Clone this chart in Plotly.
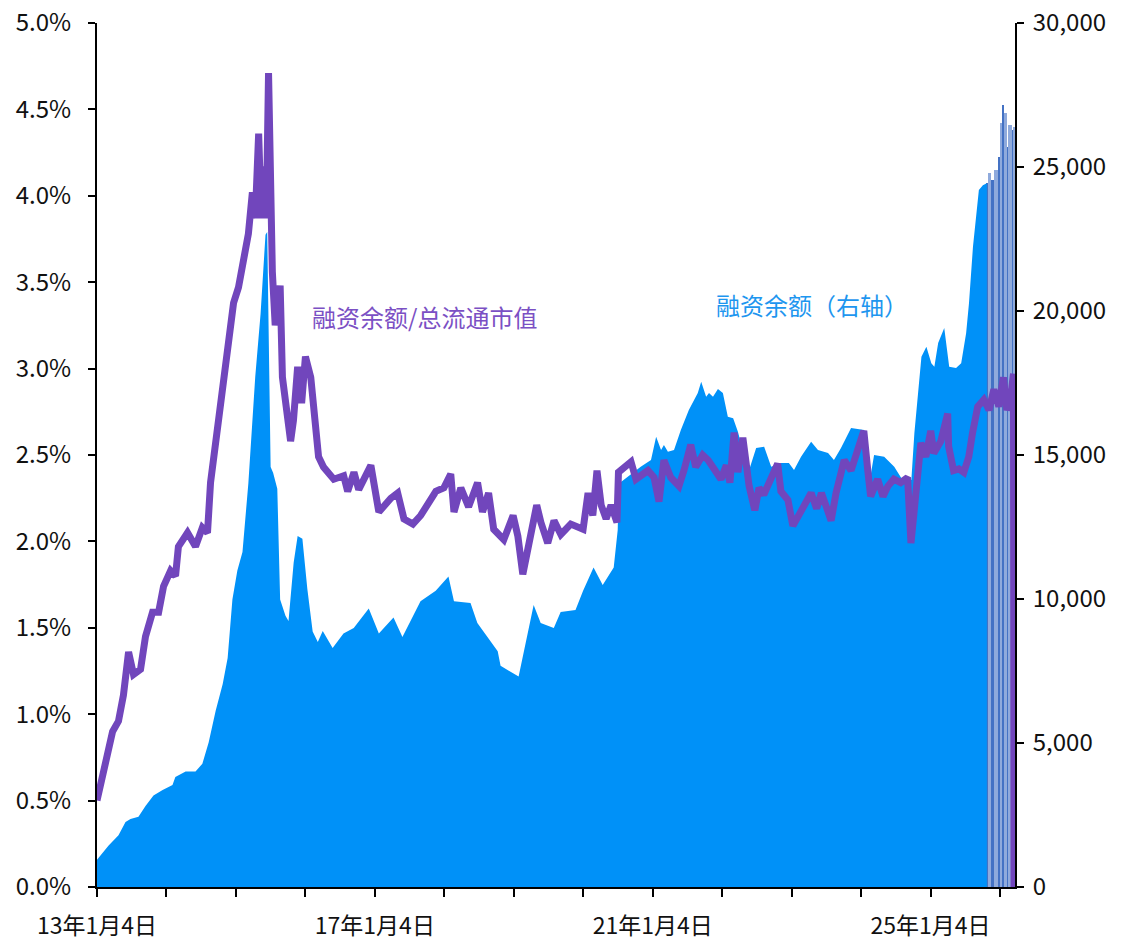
import plotly.graph_objects as go
import pandas as pd

# 融资余额 (亿元, right axis)
bal_dates = [
    "2013-01-04", "2013-03-05", "2013-04-27", "2013-06-03", "2013-06-29", "2013-08-10", "2013-09-16",
    "2013-10-28", "2013-12-15", "2014-02-05", "2014-02-20", "2014-04-15", "2014-06-06", "2014-07-12",
    "2014-08-14", "2014-09-20", "2014-10-27", "2014-11-22", "2014-12-17", "2015-01-12", "2015-02-08",
    "2015-03-11", "2015-04-16", "2015-05-14", "2015-06-09", "2015-06-18", "2015-07-06", "2015-07-19",
    "2015-08-10", "2015-08-25", "2015-09-22", "2015-10-08", "2015-11-04", "2015-11-25", "2015-12-20",
    "2016-01-15", "2016-02-12", "2016-03-10", "2016-04-05", "2016-05-27", "2016-07-23", "2016-09-15",
    "2016-12-03", "2017-01-25", "2017-04-12", "2017-05-29", "2017-09-01", "2017-11-20", "2018-01-26",
    "2018-02-24", "2018-05-22", "2018-06-27", "2018-10-12", "2018-10-27", "2019-01-30", "2019-04-19",
    "2019-05-26", "2019-08-03", "2019-09-08", "2019-11-25", "2020-01-04", "2020-02-28", "2020-04-16",
    "2020-06-13", "2020-07-04", "2020-07-09", "2020-11-02", "2020-12-26", "2021-01-22", "2021-02-17",
    "2021-03-04", "2021-03-25", "2021-04-26", "2021-06-01", "2021-07-13", "2021-08-29", "2021-09-16",
    "2021-10-12", "2021-10-27", "2021-11-17", "2021-12-13", "2022-01-08", "2022-02-03", "2022-03-03",
    "2022-03-28", "2022-04-29", "2022-05-26", "2022-07-02", "2022-08-13", "2022-09-19", "2022-11-10",
    "2022-12-21", "2023-01-17", "2023-02-23", "2023-04-17", "2023-05-23", "2023-07-15", "2023-08-15",
    "2023-09-21", "2023-11-13", "2024-01-21", "2024-02-10", "2024-02-26", "2024-03-13", "2024-05-05",
    "2024-06-27", "2024-08-03", "2024-09-25", "2024-10-11", "2024-11-01", "2024-11-17", "2024-12-13",
    "2025-01-08", "2025-01-24", "2025-02-13", "2025-03-17", "2025-04-12", "2025-05-18", "2025-06-14",
    "2025-07-10", "2025-07-25", "2025-08-15", "2025-08-31", "2025-09-15", "2025-10-06", "2025-10-27",
    "2025-11-01", "2025-11-16", "2025-12-02", "2025-12-23", "2026-01-07", "2026-01-17", "2026-01-27",
    "2026-02-12", "2026-02-17", "2026-03-09", "2026-03-18",
]
bal_values = [
    950, 1430, 1800, 2260, 2360, 2440, 2810,
    3180, 3370, 3540, 3820, 4010, 4010, 4280,
    5020, 6120, 7050, 7950, 9980, 10990, 11630,
    14030, 17710, 19900, 22650, 22740, 14580, 14380,
    13830, 9980, 9420, 9240, 11260, 12190, 12090,
    10350, 8870, 8510, 8890, 8300, 8800, 8990,
    9670, 8800, 9360, 8680, 9920, 10290, 10780,
    9920, 9860, 9170, 8190, 7680, 7310, 9790,
    9170, 8990, 9550, 9620, 10290, 11090, 10490,
    11090, 12400, 14000, 14590, 14830, 15630, 15170,
    15350, 15110, 15170, 15870, 16560, 17150, 17540,
    17020, 17150, 17020, 17290, 17150, 16330, 16280,
    15810, 15000, 14480, 15240, 15290, 14590, 14720,
    14720, 14480, 14940, 15460, 15170, 15070, 14830,
    15240, 15940, 15870, 14830, 14370, 15000, 14940,
    14590, 14200, 14130, 15760, 17370, 18410, 18760,
    18190, 18060, 18890, 19410, 18060, 18020, 18190,
    19230, 20270, 22230, 23160, 24200, 24370, 24440,
    24790, 24550, 24900, 25360, 26520, 27150, 26870,
    25700, 26460, 26290, 26390,
]

# 融资余额/总流通市值 (%, left axis)
ratio_dates = [
    "2013-01-04", "2013-02-18", "2013-03-27", "2013-04-27", "2013-05-23", "2013-06-19", "2013-07-15",
    "2013-08-21", "2013-09-16", "2013-10-23", "2013-11-24", "2013-12-20", "2014-01-26", "2014-02-21",
    "2014-03-08", "2014-04-25", "2014-06-06", "2014-07-12", "2014-08-08", "2014-08-24", "2014-09-19",
    "2014-10-15", "2014-10-31", "2014-11-27", "2014-12-23", "2015-01-18", "2015-02-14", "2015-03-11",
    "2015-04-01", "2015-04-16", "2015-05-04", "2015-05-18", "2015-05-28", "2015-06-13", "2015-06-25",
    "2015-07-15", "2015-07-30", "2015-08-25", "2015-09-06", "2015-10-02", "2015-10-19", "2015-11-03",
    "2015-11-25", "2015-12-16", "2016-01-05", "2016-02-02", "2016-02-28", "2016-03-14", "2016-04-09",
    "2016-06-02", "2016-07-24", "2016-08-14", "2016-09-16", "2016-10-11", "2016-12-14", "2017-01-25",
    "2017-03-29", "2017-05-04", "2017-06-06", "2017-07-23", "2017-09-02", "2017-10-10", "2017-11-21",
    "2018-01-02", "2018-02-07", "2018-02-24", "2018-04-01", "2018-05-12", "2018-06-28", "2018-07-24",
    "2018-08-25", "2018-09-21", "2018-11-13", "2019-01-01", "2019-01-26", "2019-02-21", "2019-03-18",
    "2019-05-05", "2019-05-27", "2019-07-02", "2019-08-04", "2019-09-09", "2019-10-31", "2020-01-04",
    "2020-01-30", "2020-02-24", "2020-03-17", "2020-04-08", "2020-05-04", "2020-05-30", "2020-06-30",
    "2020-07-08", "2020-09-12", "2020-10-08", "2020-12-10", "2021-01-11", "2021-02-06", "2021-03-04",
    "2021-04-09", "2021-05-22", "2021-06-17", "2021-07-23", "2021-08-18", "2021-09-24", "2021-10-23",
    "2021-12-03", "2021-12-29", "2022-01-26", "2022-02-14", "2022-03-08", "2022-03-28", "2022-04-23",
    "2022-05-26", "2022-06-25", "2022-07-17", "2022-08-11", "2022-09-17", "2022-10-23", "2022-11-09",
    "2022-12-16", "2023-01-11", "2023-02-13", "2023-03-11", "2023-04-17", "2023-05-16", "2023-06-10",
    "2023-07-06", "2023-07-31", "2023-08-26", "2023-10-08", "2023-11-13", "2023-12-19", "2024-01-19",
    "2024-02-09", "2024-02-24", "2024-04-01", "2024-04-29", "2024-05-25", "2024-06-25", "2024-07-31",
    "2024-09-05", "2024-09-23", "2024-10-19", "2024-11-14", "2024-12-10", "2025-01-05", "2025-01-21",
    "2025-02-27", "2025-04-04", "2025-04-09", "2025-05-05", "2025-06-02", "2025-06-28", "2025-07-24",
    "2025-08-13", "2025-09-09", "2025-10-11", "2025-11-07", "2025-12-03", "2025-12-29", "2026-01-22",
    "2026-02-09", "2026-02-28", "2026-03-16", "2026-03-19",
]
ratio_values = [
    0.50, 0.71, 0.90, 0.96, 1.11, 1.36, 1.23,
    1.26, 1.45, 1.59, 1.59, 1.74, 1.83, 1.80,
    1.97, 2.05, 1.97, 2.08, 2.05, 2.34, 2.58,
    2.80, 2.95, 3.22, 3.38, 3.47, 3.64, 3.78,
    4.02, 3.87, 4.36, 3.87, 4.17, 3.87, 4.71,
    3.56, 3.25, 3.48, 2.95, 2.70, 2.58, 2.70,
    3.01, 2.80, 3.07, 2.95, 2.67, 2.49, 2.43,
    2.36, 2.38, 2.29, 2.40, 2.30, 2.44, 2.17,
    2.25, 2.28, 2.13, 2.10, 2.15, 2.21, 2.29,
    2.31, 2.39, 2.17, 2.31, 2.20, 2.34, 2.17,
    2.28, 2.07, 2.01, 2.15, 2.03, 1.81, 1.96,
    2.21, 2.11, 1.99, 2.12, 2.04, 2.10, 2.07,
    2.28, 2.15, 2.41, 2.21, 2.13, 2.21, 2.11,
    2.40, 2.46, 2.36, 2.41, 2.37, 2.23, 2.47,
    2.37, 2.32, 2.41, 2.56, 2.43, 2.50, 2.47,
    2.41, 2.36, 2.44, 2.34, 2.63, 2.40, 2.60,
    2.32, 2.18, 2.31, 2.27, 2.36, 2.45, 2.29,
    2.24, 2.09, 2.16, 2.20, 2.28, 2.19, 2.28,
    2.20, 2.12, 2.28, 2.47, 2.41, 2.55, 2.64,
    2.41, 2.26, 2.36, 2.26, 2.32, 2.36, 2.34,
    2.37, 1.99, 2.31, 2.57, 2.49, 2.64, 2.51,
    2.58, 2.74, 2.55, 2.41, 2.42, 2.40, 2.49,
    2.63, 2.78, 2.82, 2.76, 2.88, 2.78, 2.95,
    2.76, 2.82, 2.97, 0.0,
]

stripe_start = "2025-10-27"
x_start, x_end = "2013-01-04", "2026-03-24"

tick_dates = [
    "2013-01-04", "2014-01-04", "2015-01-04", "2016-01-04", "2017-01-04", "2018-01-04", "2019-01-04",
    "2020-01-04", "2021-01-04", "2022-01-04", "2023-01-04", "2024-01-04", "2025-01-04", "2026-01-04",
]
tick_labels = [
    "13年1月4日", "", "", "", "17年1月4日", "", "", "",
    "21年1月4日", "", "", "", "25年1月4日", "",
]

BLUE = "#0091F8"
PURPLE = "#7146BC"
STRIPE_COLORS = ["#4472C4", "#8FAADC"]

main_x = [d for d in bal_dates if d <= stripe_start]
main_y = bal_values[:len(main_x)]
stripe_x = [d for d in bal_dates if d >= stripe_start]
stripe_y = bal_values[len(bal_dates) - len(stripe_x):]

# each stripe bar spans from its date to the next date
sx = pd.to_datetime(stripe_x)
edges = list(sx[1:]) + [pd.Timestamp(x_end)]
stripe_w = [(e - s).total_seconds() * 1000 for s, e in zip(sx, edges)]
stripe_c = [STRIPE_COLORS[i % 2] for i in range(len(stripe_x))]

fig = go.Figure()
fig.add_trace(go.Scatter(
    x=main_x, y=main_y, mode="lines", fill="tozeroy",
    line=dict(width=0, color=BLUE), fillcolor=BLUE, yaxis="y", hoverinfo="skip",
))
fig.add_trace(go.Bar(
    x=stripe_x, y=stripe_y, width=stripe_w, offset=0,
    marker=dict(color=stripe_c, line=dict(width=0)), yaxis="y", hoverinfo="skip",
))
fig.add_trace(go.Scatter(
    x=ratio_dates, y=ratio_values, mode="lines",
    line=dict(width=7, color=PURPLE), yaxis="y2", hoverinfo="skip",
))

FONT = "Noto Sans CJK SC, Noto Sans, sans-serif"
axis_common = dict(
    showline=True, linecolor="black", linewidth=2, ticks="outside", tickcolor="black",
    tickwidth=2, showgrid=False, zeroline=False, automargin=False,
)

fig.update_layout(
    width=1122, height=940,
    margin=dict(l=97, r=107, t=23, b=53, autoexpand=False),
    paper_bgcolor="white", plot_bgcolor="white",
    showlegend=False, bargap=0,
    font=dict(family=FONT, size=24, color="#111111"),
    xaxis=dict(
        type="date", range=[x_start, x_end],
        tickmode="array", tickvals=tick_dates, ticktext=tick_labels, tickangle=0,
        ticklen=8, ticklabelstandoff=9, tickfont=dict(size=23), **axis_common,
    ),
    yaxis=dict(
        side="right", range=[0, 30000], tickmode="linear", tick0=0, dtick=5000,
        tickformat=",", ticklen=7, ticklabelstandoff=4, **axis_common,
    ),
    yaxis2=dict(
        overlaying="y", side="left", range=[0, 5], tickmode="linear", tick0=0, dtick=0.5,
        tickformat=".1f", ticksuffix="%", ticklen=7, ticklabelstandoff=12, **axis_common,
    ),
    annotations=[
        dict(text="融资余额/总流通市值", xref="paper", yref="paper", x=0.357, y=0.660,
             showarrow=False, font=dict(family=FONT, size=24, color="#7B50C4"),
             xanchor="center", yanchor="middle"),
        dict(text="融资余额（右轴）", xref="paper", yref="paper", x=0.779, y=0.674,
             showarrow=False, font=dict(family=FONT, size=24, color="#1E96EF"),
             xanchor="center", yanchor="middle"),
    ],
)

fig.write_html("out.html", config={"displayModeBar": False},
               post_script="document.body.style.margin='0';")
